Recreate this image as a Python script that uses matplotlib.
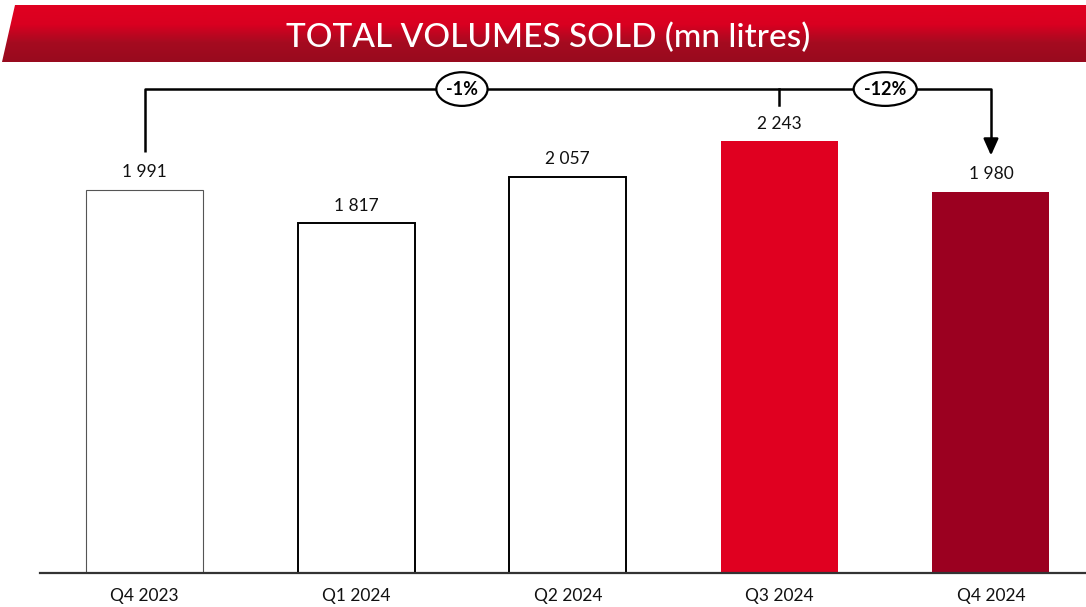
import numpy as np
import matplotlib.pyplot as plt
from matplotlib.patches import Ellipse, Polygon
from matplotlib.colors import LinearSegmentedColormap

# data
quarters = ['Q4 2023', 'Q1 2024', 'Q2 2024', 'Q3 2024', 'Q4 2024']
volumes = [1991, 1817, 2057, 2243, 1980]
labels = ['1 991', '1 817', '2 057', '2 243', '1 980']
change_yoy = '-1%'
change_qoq = '-12%'

face_colors = ['white', 'white', 'white', '#E00020', '#9B0020']
edge_colors = ['#555555', 'black', 'black', '#E00020', '#9B0020']
edge_widths = [0.8, 1.4, 1.4, 0, 0]

plt.rcParams['font.family'] = ['Lato', 'DejaVu Sans']

W, H = 1086, 607
fig = plt.figure(figsize=(W / 100, H / 100), dpi=100)

# main chart axes (pixel geometry: x 40..1086, baseline y=573, top y=65)
ax = fig.add_axes([40 / W, 1 - 573 / H, (1086 - 40) / W, (573 - 65) / H])
x = np.arange(len(quarters))
ax.bar(x, volumes, width=0.553, color=face_colors, edgecolor=edge_colors,
       linewidth=edge_widths, zorder=2)
ax.set_xlim(-0.494, 4.449)
ax.set_ylim(0, 2640)

for xi, v, lab in zip(x, volumes, labels):
    ax.annotate(lab, (xi, v), xytext=(0, 7), textcoords='offset points',
                ha='center', va='bottom', fontsize=12.5, color='#111111')

ax.set_xticks(x)
ax.set_xticklabels(quarters, fontsize=12.5, color='#111111')
ax.tick_params(axis='x', length=0, pad=11)
ax.set_yticks([])
for side in ['left', 'right', 'top']:
    ax.spines[side].set_visible(False)
ax.spines['bottom'].set_color('#333333')
ax.spines['bottom'].set_linewidth(1.6)

# bracket annotation
y_line = 2515
lw = 1.8
ax.plot([0, 0, 4, 4], [volumes[0] + 195, y_line, y_line, volumes[4] + 240],
        color='black', lw=lw, clip_on=False, zorder=3, solid_capstyle='butt')
ax.plot([3, 3], [y_line, y_line - 85], color='black', lw=lw, clip_on=False, zorder=3)
ax.annotate('', xy=(4, volumes[4] + 190), xytext=(4, volumes[4] + 260),
            arrowprops=dict(arrowstyle='-|>,head_length=1.0,head_width=0.45',
                            color='black', lw=lw, shrinkA=0, shrinkB=0),
            annotation_clip=False)

for xc, txt, w in [(1.5, change_yoy, 0.242), (3.5, change_qoq, 0.298)]:
    ax.add_patch(Ellipse((xc, y_line), w, 175, facecolor='white', edgecolor='black',
                         lw=1.6, clip_on=False, zorder=4))
    ax.text(xc, y_line, txt, ha='center', va='center', fontsize=13,
            fontweight='bold', zorder=5)

# title banner
bax = fig.add_axes([0, 0, 1, 1])
bax.set_xlim(0, W)
bax.set_ylim(H, 0)
bax.axis('off')
cmap = LinearSegmentedColormap.from_list('banner', ['#E00020', '#DA0020', '#A50B20', '#980A1E'])
grad = np.linspace(0, 1, 100).reshape(-1, 1)
img = bax.imshow(grad, cmap=cmap, extent=[0, W, 62, 5], aspect='auto', zorder=1)
poly = Polygon([[15, 5], [W, 5], [W, 62], [2, 62]], closed=True, transform=bax.transData)
img.set_clip_path(poly)
bax.text(548, 38, 'TOTAL VOLUMES SOLD (mn litres)', ha='center', va='center',
         color='white', fontsize=24, fontweight='medium', zorder=2)

fig.savefig('out.png', dpi=100)
